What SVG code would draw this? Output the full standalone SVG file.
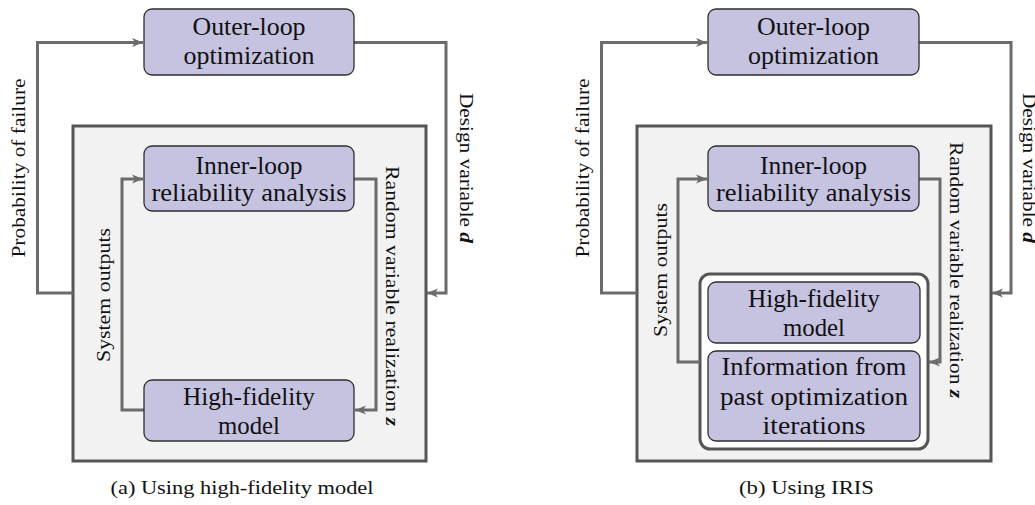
<svg xmlns="http://www.w3.org/2000/svg" width="1035" height="505" viewBox="0 0 1035 505">
<style>
.node{fill:#c6c3e0;stroke:#2e2e2e;stroke-width:1.3}
.frame{fill:#f2f2f2;stroke:#555;stroke-width:3}
.cont{fill:#fff;stroke:#555;stroke-width:3}
.conn{fill:none;stroke:#6b6b6b;stroke-width:3;marker-end:url(#arr)}
text{font-family:"Liberation Serif","Times New Roman","DejaVu Serif",serif;fill:#111;text-anchor:middle}
.t{font-size:26px}
.s{font-size:19.5px}
.c{font-size:18px}
.bi{font-weight:bold;font-style:italic}
</style>
<defs>
<marker id="arr" markerUnits="userSpaceOnUse" markerWidth="14" markerHeight="12" refX="11" refY="6" orient="auto">
<path d="M0,1.5 L11,6 L0,10.5 L3,6 z" fill="#6b6b6b"/>
</marker>
</defs>
<rect id="frameA" class="frame" x="73" y="126" width="353" height="335"/>
<rect id="frameB" class="frame" x="637" y="126" width="354" height="335"/>
<rect id="containerB" class="cont" x="700" y="274" width="228" height="175" rx="10"/>
<g id="connectors">
<path class="conn" d="M73,293 H37.5 V42.5 H143"/>
<path class="conn" d="M354,42.5 H446 V293 H427"/>
<path class="conn" d="M144,410 H122 V179 H143"/>
<path class="conn" d="M354,179 H376 V410 H355"/>
<path class="conn" d="M637,293 H601.5 V42.5 H707"/>
<path class="conn" d="M919,42.5 H1011 V293 H992"/>
<path class="conn" d="M700,362 H678 V179 H707"/>
<path class="conn" d="M919,179 H940 V362 H929"/>
</g>
<g id="outerA"><rect class="node" x="144" y="9" width="210" height="66" rx="8"/><text class="t" x="249" y="35" textLength="113" lengthAdjust="spacingAndGlyphs">Outer-loop</text><text class="t" x="249" y="63.5" textLength="131" lengthAdjust="spacingAndGlyphs">optimization</text></g>
<g id="innerA"><rect class="node" x="144" y="146" width="210" height="65" rx="8"/><text class="t" x="249" y="173.5" textLength="107" lengthAdjust="spacingAndGlyphs">Inner-loop</text><text class="t" x="249" y="200.5" textLength="195" lengthAdjust="spacingAndGlyphs">reliability analysis</text></g>
<g id="hifiA"><rect class="node" x="144" y="380" width="210" height="61" rx="8"/><text class="t" x="249" y="405" textLength="132" lengthAdjust="spacingAndGlyphs">High-fidelity</text><text class="t" x="249" y="433.5" textLength="62" lengthAdjust="spacingAndGlyphs">model</text></g>
<g id="outerB"><rect class="node" x="708" y="9" width="211" height="66" rx="8"/><text class="t" x="813.5" y="35" textLength="113" lengthAdjust="spacingAndGlyphs">Outer-loop</text><text class="t" x="813.5" y="63.5" textLength="131" lengthAdjust="spacingAndGlyphs">optimization</text></g>
<g id="innerB"><rect class="node" x="708" y="146" width="211" height="65" rx="8"/><text class="t" x="813.5" y="173.5" textLength="107" lengthAdjust="spacingAndGlyphs">Inner-loop</text><text class="t" x="813.5" y="200.5" textLength="195" lengthAdjust="spacingAndGlyphs">reliability analysis</text></g>
<g id="hifiB"><rect class="node" x="708" y="282" width="212" height="61" rx="8"/><text class="t" x="814" y="307" textLength="132" lengthAdjust="spacingAndGlyphs">High-fidelity</text><text class="t" x="814" y="335.5" textLength="62" lengthAdjust="spacingAndGlyphs">model</text></g>
<g id="infoB"><rect class="node" x="708" y="351" width="212" height="90" rx="8"/><text class="t" x="814" y="375" textLength="185" lengthAdjust="spacingAndGlyphs">Information from</text><text class="t" x="814" y="404.5" textLength="188" lengthAdjust="spacingAndGlyphs">past optimization</text><text class="t" x="814" y="434" textLength="103" lengthAdjust="spacingAndGlyphs">iterations</text></g>
<g id="labels">
<text class="s" transform="translate(25,168) rotate(-90)" textLength="179" lengthAdjust="spacingAndGlyphs">Probability of failure</text>
<text class="s" transform="translate(460,168) rotate(90)" textLength="150" lengthAdjust="spacingAndGlyphs">Design variable <tspan class="bi">d</tspan></text>
<text class="s" transform="translate(110,295) rotate(-90)" textLength="134" lengthAdjust="spacingAndGlyphs">System outputs</text>
<text class="s" transform="translate(385.5,296) rotate(90)" textLength="260" lengthAdjust="spacingAndGlyphs">Random variable realization <tspan class="bi">z</tspan></text>
<text class="s" transform="translate(589,168) rotate(-90)" textLength="179" lengthAdjust="spacingAndGlyphs">Probability of failure</text>
<text class="s" transform="translate(1023,168) rotate(90)" textLength="150" lengthAdjust="spacingAndGlyphs">Design variable <tspan class="bi">d</tspan></text>
<text class="s" transform="translate(667,270) rotate(-90)" textLength="134" lengthAdjust="spacingAndGlyphs">System outputs</text>
<text class="s" transform="translate(950,270) rotate(90)" textLength="256" lengthAdjust="spacingAndGlyphs">Random variable realization <tspan class="bi">z</tspan></text>
</g>
<text class="c" x="242" y="494" textLength="263" lengthAdjust="spacingAndGlyphs">(a) Using high-fidelity model</text>
<text class="c" x="806.5" y="494" textLength="135" lengthAdjust="spacingAndGlyphs">(b) Using IRIS</text>
</svg>
